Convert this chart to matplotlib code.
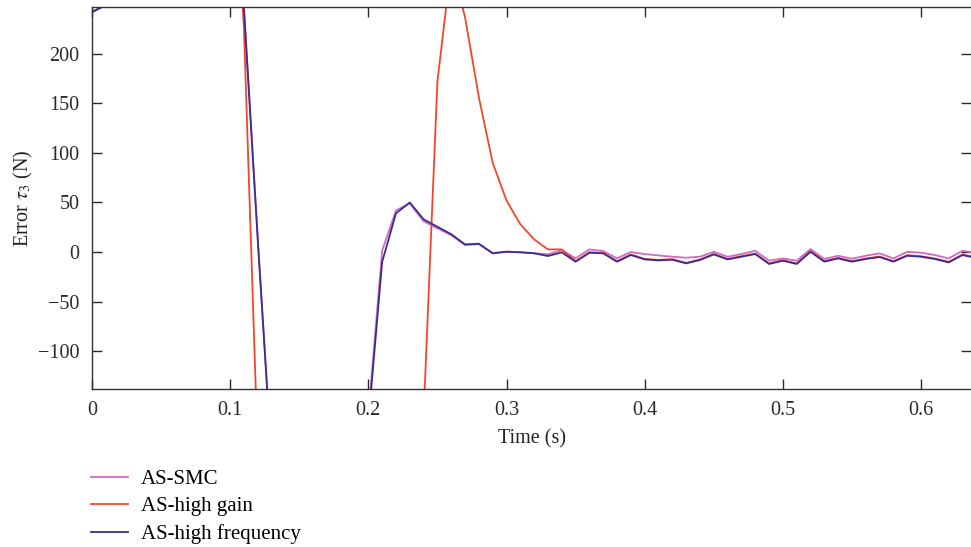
import numpy as np
import matplotlib
matplotlib.use("Agg")
from matplotlib import pyplot as plt

plt.rcParams['font.family'] = ['Liberation Serif', 'DejaVu Serif']
plt.rcParams['mathtext.fontset'] = 'stix'

# sample times (s)
time = [round(0.01 * i, 2) for i in range(65)]

# AS-SMC
err_smc = [242, 249, 330, 420, 500, 560, 600, 620, 610, 560, 470,
           247, 14, -208, -380, -470, -500, -480, -420, -300, -165,
           1.3, 42, 49, 31, 24, 17, 7, 8, -1, 0.5,
           0, -1, -2.3, 2, -6.3, 2.7, 1, -6.3, 0, -2,
           -3.4, -4.7, -5.7, -4.7, 0.3, -4.7, -2, 1.3, -8.7, -6.4,
           -8.7, 3, -7, -3.7, -6.7, -3.7, -1.3, -6.4, 0.3, -0.7,
           -3, -6.4, 1.3, -1]

# AS-high gain
err_gain = [242, 249, 330, 420, 500, 560, 600, 620, 610, 560, 470,
            225, -200, -450, -600, -700, -720, -680, -600, -500, -420,
            -350, -280, -220, -165, 172, 290, 237, 156, 90, 52,
            28, 12.8, 2.7, 2.7, -9.2, -0.2, -0.8, -9.2, -2.5, -6.9,
            -7.9, -7.2, -10.9, -7.5, -1.9, -6.9, -4.2, -1.5, -11.5, -8.2,
            -11.5, 0.8, -9.2, -5.9, -9.2, -6.5, -4.5, -9.2, -3.2, -4.2,
            -6.5, -9.9, -2.5, -5.5]

# AS-high frequency
err_freq = [242, 249, 330, 420, 500, 560, 600, 620, 610, 560, 470,
            245, 12, -210, -380, -470, -500, -480, -420, -300, -172,
            -10, 39, 50, 33, 25.5, 18, 7.7, 8.4, -1.3, 0.3,
            -0.3, -1.3, -4, -0.3, -9.7, -0.7, -1.3, -9.7, -3, -7.4,
            -8.4, -7.7, -11.4, -8, -2.4, -7.4, -4.7, -2, -12, -8.7,
            -12, 0.3, -9.7, -6.4, -9.7, -7, -5, -9.7, -3.7, -4.7,
            -7, -10.4, -3, -6]

fig = plt.figure(figsize=(9.71, 5.47), dpi=100)
ax = fig.add_axes([0.0947, 0.289, 0.9058, 0.698])

ax.plot(time, err_smc, color='#d16bc0', lw=1.3, label='AS-SMC')
ax.plot(time, err_gain, color='#f4452c', lw=1.3, label='AS-high gain')
ax.plot(time, err_freq, color='#3a2c92', lw=1.3, label='AS-high frequency')

ax.set_xlim(0, 0.6365)
ax.set_ylim(-138, 247)
ax.set_xticks([0, 0.1, 0.2, 0.3, 0.4, 0.5, 0.6])
ax.set_xticklabels(['0', '0.1', '0.2', '0.3', '0.4', '0.5', '0.6'])
ax.set_yticks([-100, -50, 0, 50, 100, 150, 200])
ax.set_yticklabels(['\u2212100', '\u221250', '0', '50', '100', '150', '200'])
ax.tick_params(direction='in', length=7, width=1, top=True, right=True,
               labelsize=14.5, colors='#2a2a2a', pad=9)
for s in ax.spines.values():
    s.set_color('#333333')
    s.set_linewidth(1)
ax.spines['right'].set_visible(False)

ax.set_xlabel('Time (s)', fontsize=14.5, color='#222222', labelpad=6)
ax.set_ylabel(r'Error $\tau_3$ (N)', fontsize=14.5, color='#222222', labelpad=2)

fig.legend(loc='upper left', bbox_to_anchor=(0.094, 0.142), frameon=False,
           fontsize=15, handlelength=1.75, handletextpad=0.65, labelspacing=0.38,
           borderaxespad=0, borderpad=0)

fig.savefig('out.png', dpi=100)
